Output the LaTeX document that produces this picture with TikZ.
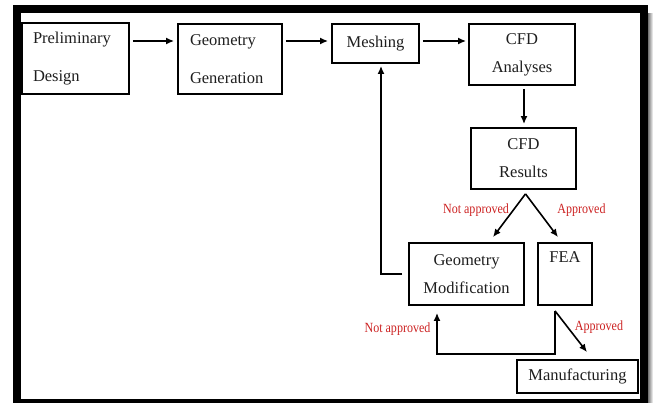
\documentclass[tikz,border=0pt]{standalone}
\usepackage{fontspec}
\setmainfont{Liberation Serif}
\usetikzlibrary{arrows.meta,calc}
\definecolor{redtxt}{RGB}{205,35,35}
\definecolor{txt}{RGB}{30,30,30}
\begin{document}
\begin{tikzpicture}[x=1pt,y=-1pt,
  box/.style={draw=black,line width=1.8pt,inner sep=0pt,font=\fontsize{16.5}{19}\selectfont,text=txt,align=center},
  arr/.style={line width=1.6pt,-{Latex[length=8pt,width=7pt]}},
  lbl/.style={text=redtxt,font=\fontsize{14}{16}\selectfont,inner sep=0pt}]
\useasboundingbox (0,0) rectangle (656,403);
\fill[white] (0,0) rectangle (656,403);
\shade[left color=black!55,right color=white] (648,14) rectangle (653,403);
\draw[line width=8pt,miter limit=10] (17,9) rectangle (643.5,403);
% boxes
\node[box,minimum width=107pt,minimum height=71pt,text width=85pt,align=left] (prelim) at (75.5,58.5) {Preliminary\\[19pt]Design};
\node[box,minimum width=104pt,minimum height=70pt,text width=80pt,align=left] (geom) at (230,59) {Geometry\\[19pt]Generation};
\node[box,minimum width=87pt,minimum height=39pt] (mesh) at (375.5,43.5) {Meshing};
\node[box,minimum width=106pt,minimum height=61pt] (cfda) at (522,54.5) {CFD\\[9pt]Analyses};
\node[box,minimum width=105pt,minimum height=61pt] (cfdr) at (523.5,158.5) {CFD\\[9pt]Results};
\node[box,minimum width=115pt,minimum height=62pt] (gmod) at (466.5,274) {Geometry\\[9pt]Modification};
\node[box,minimum width=54pt,minimum height=62pt] (fea) at (565,274) {FEA\\[9pt]\strut};
\node[box,minimum width=121pt,minimum height=33pt] (manu) at (577.5,376.5) {Manufacturing};
% connectors
\coordinate (row) at (0,41);
\draw[arr,shorten <=3pt,shorten >=3pt] (prelim.east|-row) -- (geom.west|-row);
\draw[arr,shorten <=3pt,shorten >=3pt] (geom.east|-row) -- (mesh.west|-row);
\draw[arr,shorten <=3pt,shorten >=2pt] (mesh.east|-row) -- (cfda.west|-row);
\draw[arr,shorten <=3pt,shorten >=3pt] ([xshift=2pt]cfda.south) -- ([xshift=2pt]cfda.south|-cfdr.north);
\coordinate (apex) at ($(cfdr.south)+(2,4)$);
\draw[arr] (apex) -- ($(gmod.north)+(26.5,-5)$);
\draw[arr] (apex) -- ($(fea.north)+(-7,-5)$);
\draw[arr] ($(gmod.west)+(-6,0)$) -| ($(mesh.south)+(5.5,2)$);
\coordinate (fb) at ($(fea.south)+(-10,5)$);
\draw[arr] (fb) |- ($(gmod.south)+(-29.5,48)$) -- ($(gmod.south)+(-29.5,7)$);
\draw[arr] (fb) -- ($(manu.north)+(9.5,-7)$);
% labels
\node[lbl] (na1) at (476,210) {\scalebox{0.86}[1]{Not approved}};
\node[lbl] (ap1) at (581.5,210) {\scalebox{0.86}[1]{Approved}};
\node[lbl] (na2) at (397.5,329) {\scalebox{0.86}[1]{Not approved}};
\node[lbl] (ap2) at (599,327) {\scalebox{0.86}[1]{Approved}};
\end{tikzpicture}
\end{document}
